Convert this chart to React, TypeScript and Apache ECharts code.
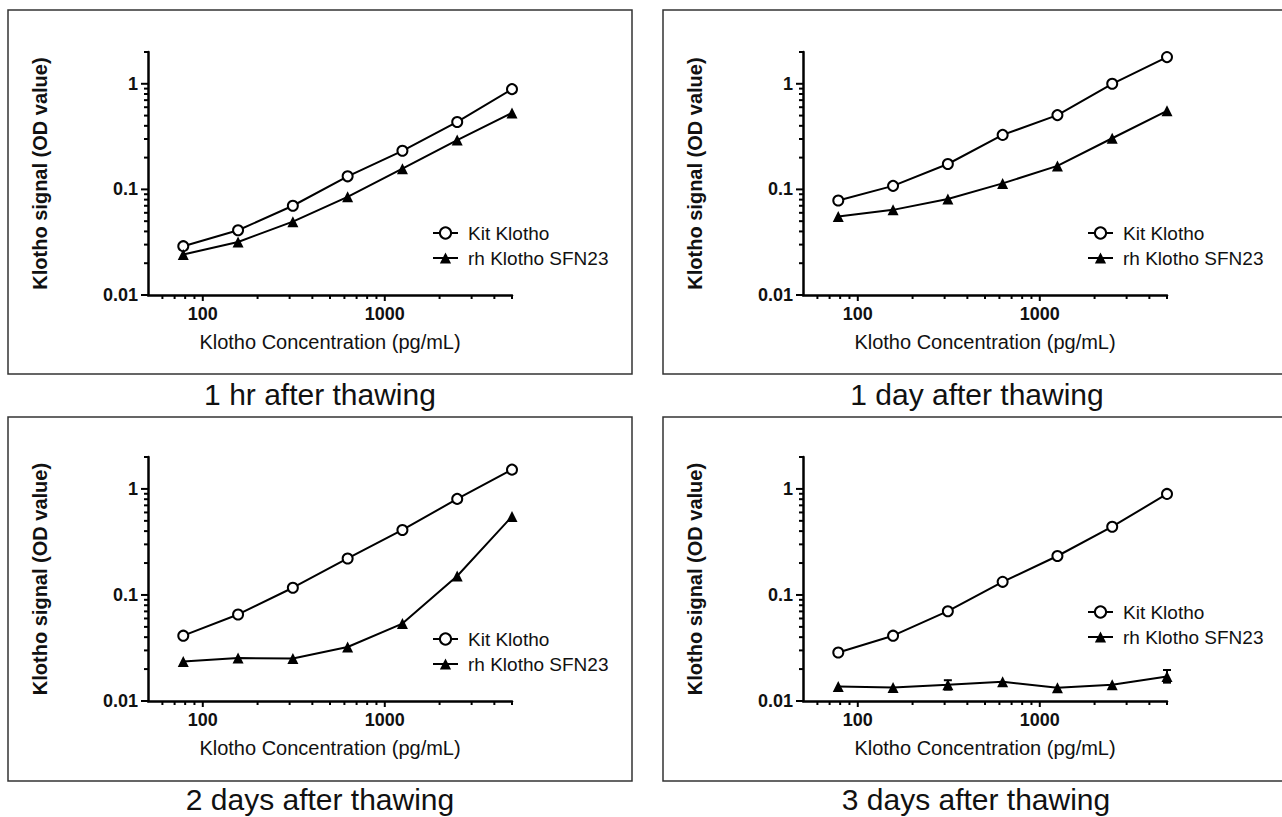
import React, { useEffect, useRef } from "react";
import * as echarts from "echarts";

const concentrations = [78.125, 156.25, 312.5, 625, 1250, 2500, 5000];
const panelTitles = ["1 hr after thawing", "1 day after thawing", "2 days after thawing", "3 days after thawing"];
const seriesNames = ["Kit Klotho", "rh Klotho SFN23"];

const kit1hr = [0.029, 0.041, 0.07, 0.133, 0.232, 0.435, 0.89];
const rh1hr = [0.0242, 0.0318, 0.0495, 0.085, 0.157, 0.293, 0.53];
const kit1day = [0.0785, 0.108, 0.174, 0.328, 0.505, 1.0, 1.79];
const rh1day = [0.0553, 0.064, 0.081, 0.114, 0.167, 0.305, 0.555];
const kit2day = [0.0413, 0.0655, 0.117, 0.221, 0.41, 0.805, 1.52];
const rh2day = [0.0236, 0.0254, 0.0252, 0.0323, 0.0537, 0.151, 0.55];
const kit3day = [0.0287, 0.0413, 0.0703, 0.133, 0.233, 0.44, 0.897];
const rh3day = [0.0137, 0.0134, 0.0142, 0.0152, 0.0133, 0.0142, 0.017];
const rh3dayErrLow = [null, null, 0.0128, null, null, null, 0.0149];
const rh3dayErrHigh = [null, null, 0.0157, null, null, null, 0.0196];

const xMajorTicks = [100, 1000];
const xMinorTicks = [60, 70, 80, 90, 200, 300, 400, 500, 600, 700, 800, 900, 2000, 3000, 4000, 5000];
const yMajorTicks = [0.01, 0.1, 1];
const yMinorTicks = [0.02, 0.03, 0.04, 0.05, 0.06, 0.07, 0.08, 0.09, 0.2, 0.3, 0.4, 0.5, 0.6, 0.7, 0.8, 0.9, 2];

const X_MIN = 50;
const X_MAX = 5000;
const Y_MIN = 0.01;
const Y_MAX = 2;

const FONT = "'Liberation Sans', Arial, sans-serif";

const kitData = [kit1hr, kit1day, kit2day, kit3day];
const rhData = [rh1hr, rh1day, rh2day, rh3day];

const grids = [
  { left: 148, top: 52, width: 364, height: 243 },
  { left: 803, top: 52, width: 364, height: 243 },
  { left: 148, top: 457, width: 364, height: 244 },
  { left: 803, top: 457, width: 364, height: 244 },
];
const legendPos = [
  { left: 427, top: 218 },
  { left: 1082, top: 218 },
  { left: 427, top: 624 },
  { left: 1082, top: 597 },
];
const boxes = [
  { x: 8, y: 10, w: 624, h: 364 },
  { x: 663, y: 10, w: 640, h: 364 },
  { x: 8, y: 417, w: 624, h: 364 },
  { x: 663, y: 417, w: 640, h: 364 },
];
const captions = [
  { x: 320, y: 394 },
  { x: 977, y: 394 },
  { x: 320, y: 799 },
  { x: 976, y: 799 },
];

const fmt = (v: number) => String(Number(v.toPrecision(6)));

function xTickSeries(i: number) {
  const data = [
    ...xMajorTicks.map((v) => [v, Y_MIN, 6]),
    ...xMinorTicks.map((v) => [v, Y_MIN, 4]),
  ];
  return {
    type: "custom",
    xAxisIndex: i,
    yAxisIndex: i,
    clip: false,
    silent: true,
    data,
    renderItem: (params: any, api: any) => {
      const p = api.coord([api.value(0), api.value(1)]);
      const len = api.value(2);
      return {
        type: "line",
        shape: { x1: p[0], y1: p[1], x2: p[0], y2: p[1] + len },
        style: { stroke: "#000", lineWidth: 2 },
      };
    },
  };
}

function yTickSeries(i: number) {
  const data = [
    ...yMajorTicks.map((v) => [X_MIN, v, 7]),
    ...yMinorTicks.map((v) => [X_MIN, v, 4]),
  ];
  return {
    type: "custom",
    xAxisIndex: i,
    yAxisIndex: i,
    clip: false,
    silent: true,
    data,
    renderItem: (params: any, api: any) => {
      const p = api.coord([api.value(0), api.value(1)]);
      const len = api.value(2);
      return {
        type: "line",
        shape: { x1: p[0], y1: p[1], x2: p[0] - len, y2: p[1] },
        style: { stroke: "#000", lineWidth: 2 },
      };
    },
  };
}

function errorBarSeries(i: number) {
  const data: number[][] = [];
  concentrations.forEach((c, j) => {
    const lo = rh3dayErrLow[j];
    const hi = rh3dayErrHigh[j];
    if (lo != null && hi != null) data.push([c, lo, hi]);
  });
  return {
    type: "custom",
    xAxisIndex: i,
    yAxisIndex: i,
    clip: false,
    silent: true,
    z: 1,
    data,
    renderItem: (params: any, api: any) => {
      const x = api.value(0);
      const pLo = api.coord([x, api.value(1)]);
      const pHi = api.coord([x, api.value(2)]);
      const w = 4;
      const st = { stroke: "#000", lineWidth: 2 };
      return {
        type: "group",
        children: [
          { type: "line", shape: { x1: pLo[0], y1: pLo[1], x2: pHi[0], y2: pHi[1] }, style: st },
          { type: "line", shape: { x1: pHi[0] - w, y1: pHi[1], x2: pHi[0] + w, y2: pHi[1] }, style: st },
          { type: "line", shape: { x1: pLo[0] - w, y1: pLo[1], x2: pLo[0] + w, y2: pLo[1] }, style: st },
        ],
      };
    },
  };
}

export default function App() {
  const ref = useRef<HTMLDivElement>(null);

  useEffect(() => {
    if (!ref.current) return;
    const chart = echarts.init(ref.current, undefined, { renderer: "svg" });

    const series: any[] = [];
    grids.forEach((g, i) => {
      series.push({
        name: seriesNames[0],
        type: "line",
        xAxisIndex: i,
        yAxisIndex: i,
        data: concentrations.map((c, j) => [c, kitData[i][j]]),
        symbol: "circle",
        symbolSize: 10,
        itemStyle: { color: "#fff", borderColor: "#000", borderWidth: 2 },
        lineStyle: { color: "#000", width: 2 },
        z: 3,
      });
      series.push({
        name: seriesNames[1],
        type: "line",
        xAxisIndex: i,
        yAxisIndex: i,
        data: concentrations.map((c, j) => [c, rhData[i][j]]),
        symbol: "triangle",
        symbolSize: 11,
        itemStyle: { color: "#000" },
        lineStyle: { color: "#000", width: 2 },
        z: 3,
      });
      series.push(xTickSeries(i));
      series.push(yTickSeries(i));
    });
    series.push(errorBarSeries(3));

    const graphics: any[] = [];
    boxes.forEach((b) => {
      graphics.push({
        type: "rect",
        shape: { x: b.x, y: b.y, width: b.w, height: b.h },
        style: { fill: "none", stroke: "#333", lineWidth: 1.5 },
        silent: true,
      });
    });
    captions.forEach((c, i) => {
      graphics.push({
        type: "text",
        x: c.x,
        y: c.y,
        style: {
          text: panelTitles[i],
          fontSize: 30,
          fontFamily: FONT,
          fill: "#111",
          align: "center",
          verticalAlign: "middle",
        },
        silent: true,
      });
    });

    chart.setOption({
      animation: false,
      backgroundColor: "#fff",
      grid: grids.map((g) => ({ ...g, containLabel: false })),
      xAxis: grids.map((g, i) => ({
        type: "log",
        logBase: 10,
        gridIndex: i,
        min: X_MIN,
        max: X_MAX,
        axisLine: { show: true, lineStyle: { color: "#000", width: 2.5 } },
        axisTick: { show: false },
        splitLine: { show: false },
        minorTick: { show: false },
        axisLabel: {
          showMinLabel: false,
          showMaxLabel: false,
          fontSize: 18,
          fontWeight: "bold",
          color: "#111",
          margin: 10,
          fontFamily: FONT,
          formatter: fmt,
        },
        name: "Klotho Concentration (pg/mL)",
        nameLocation: "middle",
        nameGap: 37,
        nameTextStyle: { fontSize: 20, color: "#111", fontFamily: FONT },
      })),
      yAxis: grids.map((g, i) => ({
        type: "log",
        logBase: 10,
        gridIndex: i,
        min: Y_MIN,
        max: Y_MAX,
        axisLine: { show: true, lineStyle: { color: "#000", width: 2.5 } },
        axisTick: { show: false },
        splitLine: { show: false },
        minorTick: { show: false },
        axisLabel: {
          showMinLabel: true,
          showMaxLabel: false,
          fontSize: 18,
          fontWeight: "bold",
          color: "#111",
          margin: 10,
          fontFamily: FONT,
          formatter: fmt,
        },
        name: "Klotho signal (OD value)",
        nameLocation: "middle",
        nameRotate: 90,
        nameGap: 98,
        nameTextStyle: { fontSize: 20, fontWeight: "bold", color: "#111", fontFamily: FONT },
      })),
      legend: legendPos.map((p) => ({
        orient: "vertical",
        left: p.left,
        top: p.top,
        data: seriesNames,
        itemWidth: 25,
        itemHeight: 14,
        itemGap: 5,
        selectedMode: false,
        textStyle: {
          fontSize: 19,
          fontFamily: FONT,
          color: "#111",
          lineHeight: 20,
          padding: [0, 0, 0, 5],
        },
      })),
      graphic: graphics,
      series,
    });

    return () => chart.dispose();
  }, []);

  return (
    <div
      ref={ref}
      style={{ position: "fixed", left: 0, top: 0, width: 1282, height: 817, background: "#fff" }}
    />
  );
}
